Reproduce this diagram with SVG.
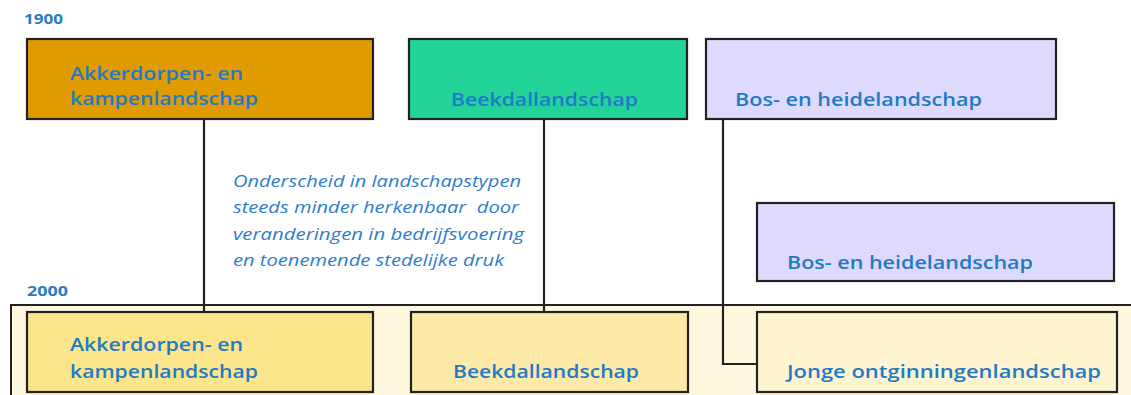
<svg xmlns="http://www.w3.org/2000/svg" width="1131" height="395" viewBox="0 0 1131 395">
<style>
.box{stroke:#222;stroke-width:2.2}
.lbl{font-family:"Open Sans","Liberation Sans",sans-serif;font-weight:600;font-size:18.5px;fill:#1F7BC6}
.yr{font-family:"Open Sans","Liberation Sans",sans-serif;font-weight:bold;font-size:14px;fill:#2A7CC4}
.note{font-family:"Open Sans","Liberation Sans",sans-serif;font-style:italic;font-size:16px;fill:#2F7DCB}
.con{fill:none;stroke:#222;stroke-width:2.2}
</style>
<rect width="1131" height="395" fill="#fff"/>
<g id="era2000">
<rect x="11" y="305" width="1130" height="100" fill="#FFF8DE" stroke="#222" stroke-width="2"/>
</g>
<text class="yr" x="24" y="24" textLength="39" lengthAdjust="spacingAndGlyphs">1900</text>
<text class="yr" x="27" y="296" textLength="41" lengthAdjust="spacingAndGlyphs">2000</text>
<g id="connectors">
<path class="con" d="M204 118V312"/>
<path class="con" d="M544 119V312"/>
<path class="con" d="M723 119V364H757"/>
</g>
<g id="n1">
<rect class="box" x="27" y="39" width="346" height="80" fill="#E09B00"/>
<text class="lbl" x="70" y="80" textLength="173" lengthAdjust="spacingAndGlyphs">Akkerdorpen- en</text>
<text class="lbl" x="70" y="105" textLength="188" lengthAdjust="spacingAndGlyphs">kampenlandschap</text>
</g>
<g id="n2">
<rect class="box" x="409" y="39" width="278" height="80" fill="#22D39A"/>
<text class="lbl" x="451" y="106" textLength="187" lengthAdjust="spacingAndGlyphs">Beekdallandschap</text>
</g>
<g id="n3">
<rect class="box" x="706" y="39" width="350" height="80" fill="#DDDAFD"/>
<text class="lbl" x="735" y="106" textLength="247" lengthAdjust="spacingAndGlyphs">Bos- en heidelandschap</text>
</g>
<g id="n4">
<rect class="box" x="757" y="203" width="357" height="78" fill="#DDDAFD"/>
<text class="lbl" x="787" y="269" textLength="246" lengthAdjust="spacingAndGlyphs">Bos- en heidelandschap</text>
</g>
<g id="note">
<text class="note" x="233" y="187" textLength="288" lengthAdjust="spacingAndGlyphs">Onderscheid in landschapstypen</text>
<text class="note" x="233" y="213" textLength="286" lengthAdjust="spacingAndGlyphs" xml:space="preserve">steeds minder herkenbaar  door</text>
<text class="note" x="233" y="240" textLength="291" lengthAdjust="spacingAndGlyphs">veranderingen in bedrijfsvoering</text>
<text class="note" x="233" y="266" textLength="271" lengthAdjust="spacingAndGlyphs">en toenemende stedelijke druk</text>
</g>
<g id="n5">
<rect class="box" x="27" y="312" width="346" height="80" fill="#FCE58A"/>
<text class="lbl" x="70" y="351" textLength="173" lengthAdjust="spacingAndGlyphs">Akkerdorpen- en</text>
<text class="lbl" x="70" y="378" textLength="188" lengthAdjust="spacingAndGlyphs">kampenlandschap</text>
</g>
<g id="n6">
<rect class="box" x="411" y="312" width="277" height="80" fill="#FDEAA9"/>
<text class="lbl" x="453" y="378" textLength="186" lengthAdjust="spacingAndGlyphs">Beekdallandschap</text>
</g>
<g id="n7">
<rect class="box" x="757" y="312" width="360" height="80" fill="#FEF4D0"/>
<text class="lbl" x="787" y="378" textLength="314" lengthAdjust="spacingAndGlyphs">Jonge ontginningenlandschap</text>
</g>
</svg>
